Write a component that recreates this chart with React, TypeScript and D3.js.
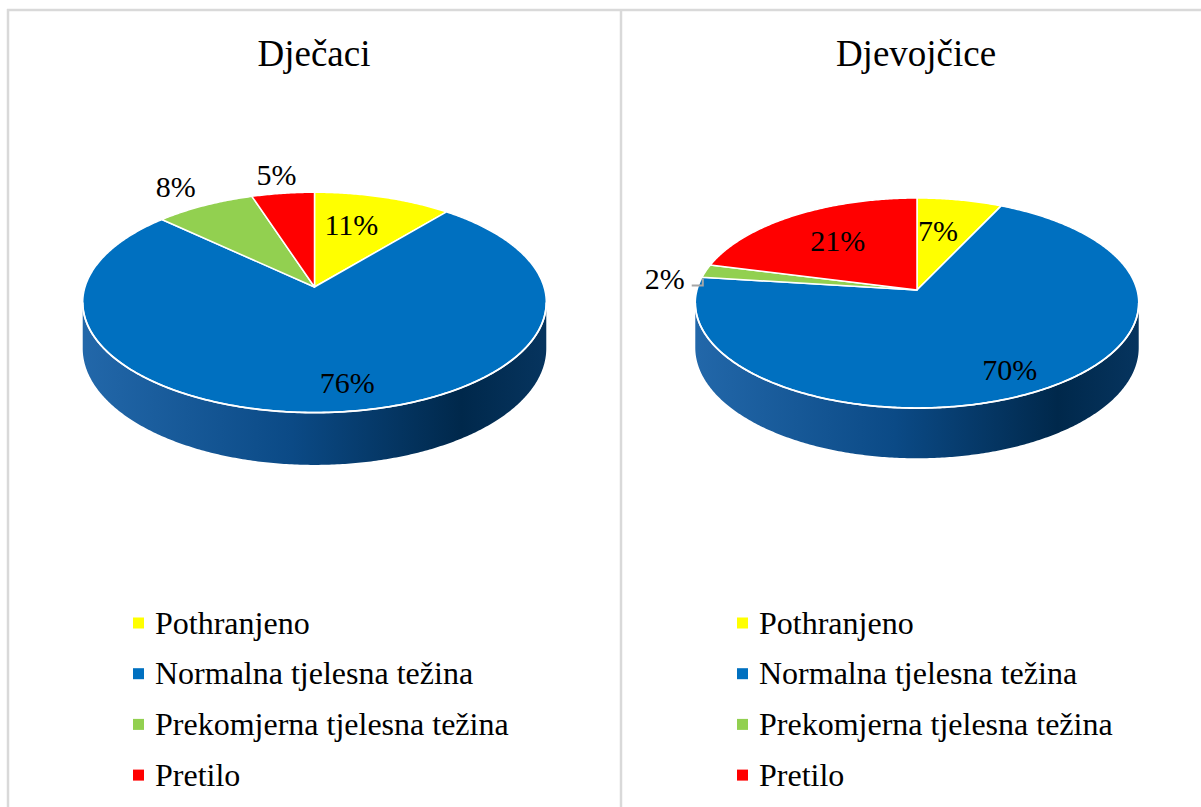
import React from 'react';
import * as d3 from 'd3';

// chart data
const categories = ['Pothranjeno', 'Normalna tjelesna težina', 'Prekomjerna tjelesna težina', 'Pretilo'];
const sliceColors = ['#ffff00', '#0070c0', '#92d050', '#ff0000'];
const boysValues = [11, 76, 8, 5];
const girlsValues = [7, 70, 2, 21];
const panelTitles = ['Dječaci', 'Djevojčice'];

const W = 1201;
const H = 807;
const FONT = '"Liberation Serif", "Times New Roman", serif';

// 3d pie geometry per panel (perspective ellipse)
const panels = [
  {
    title: panelTitles[0],
    values: boysValues,
    cx: 314.5, cy: 287, a: 229.5, b: 108, k: 0.14, depth: 45,
    titleX: 314,
    legendX: 133,
    labelR: [0.67, 0.79, 1.27, 1.24],
    labelDx: [-11, 20, -3, 0],
    labelDy: [0, 0, 0, 0],
    leader: [false, false, false, false]
  },
  {
    title: panelTitles[1],
    values: girlsValues,
    cx: 917, cy: 290, a: 220, b: 103.4, k: 0.124, depth: 44,
    titleX: 916,
    legendX: 737,
    labelR: [0.63, 0.8, 1.2, 0.64],
    labelDx: [-7, 0, 0, 2],
    labelDy: [0, 0, 11, 0],
    leader: [false, false, true, false]
  }
];

type Geo = { cx: number; cy: number; a: number; b: number; k: number; depth: number };

function proj(g: Geo, theta: number, r: number, drop = 0): [number, number] {
  const u = r * Math.sin(theta);
  const t = -r * Math.cos(theta);
  const w = 1 - g.k * t;
  return [g.cx + (g.a * u) / w, g.cy + (g.b * t + drop) / w];
}

function arcPoints(g: Geo, a0: number, a1: number, drop = 0) {
  const n = Math.max(2, Math.ceil(Math.abs(a1 - a0) / 0.01));
  return d3.range(n + 1).map((i) => proj(g, a0 + ((a1 - a0) * i) / n, 1, drop));
}

const line = d3.line();

function PiePanel({ p, idx }: { p: typeof panels[0]; idx: number }) {
  const arcs = d3.pie<number>().sort(null).startAngle(0).endAngle(2 * Math.PI)(p.values);
  const thL = Math.acos(-p.k);
  const thR = 2 * Math.PI - thL;
  const gradId = 'side-grad-' + idx;

  const sides = arcs
    .map((d, i) => {
      const s = Math.max(d.startAngle, thL);
      const e = Math.min(d.endAngle, thR);
      if (s >= e) return null;
      const pts = arcPoints(p, s, e).concat(arcPoints(p, e, s, p.depth));
      return <path key={'side' + i} d={line(pts) + 'Z'} fill={'url(#' + gradId + ')'} />;
    })
    .filter(Boolean);

  const apex: [number, number] = [p.cx, p.cy];

  return (
    <g>
      <defs>
        <linearGradient id={gradId} gradientUnits="userSpaceOnUse" x1={p.cx - p.a} y1={0} x2={p.cx + p.a} y2={0}>
          <stop offset="0%" stopColor="#2267a9" />
          <stop offset="45%" stopColor="#0b4a86" />
          <stop offset="82%" stopColor="#00284b" />
          <stop offset="100%" stopColor="#06345e" />
        </linearGradient>
      </defs>
      <text x={p.titleX} y={66} textAnchor="middle" fontFamily={FONT} fontSize={37} fill="#000">
        {p.title}
      </text>
      {sides}
      {arcs.map((d, i) => {
        const pts = [apex, ...arcPoints(p, d.startAngle, d.endAngle)];
        return (
          <path
            key={'top' + i}
            d={line(pts) + 'Z'}
            fill={sliceColors[i]}
            stroke="#fff"
            strokeWidth={1.5}
            strokeLinejoin="round"
          />
        );
      })}
      <path d={line(arcPoints(p, thL, thR)) || ''} fill="none" stroke="#fff" strokeWidth={1.8} />
      {arcs.map((d, i) => {
        const mid = (d.startAngle + d.endAngle) / 2;
        const [lx0, ly0] = proj(p, mid, p.labelR[i]);
        const lx = lx0 + p.labelDx[i];
        const ly = ly0 + p.labelDy[i];
        let leader = null;
        if (p.leader[i]) {
          const edge = proj(p, mid, 1);
          const ex = edge[0] - 3;
          leader = (
            <polyline
              points={`${lx + 27},${ly + 7} ${ex},${ly + 7} ${ex},${ly}`}
              fill="none"
              stroke="#a6a6a6"
              strokeWidth={2}
            />
          );
        }
        return (
          <g key={'lab' + i}>
            {leader}
            <text x={lx} y={ly} dy="0.35em" textAnchor="middle" fontFamily={FONT} fontSize={30} fill="#000">
              {d.data + '%'}
            </text>
          </g>
        );
      })}
      {categories.map((c, i) => (
        <g key={'leg' + i} transform={`translate(${p.legendX},${623 + i * 50.7})`}>
          <rect x={0} y={-5.5} width={11} height={11} fill={sliceColors[i]} />
          <text x={22} y={0} dy="0.33em" fontFamily={FONT} fontSize={32} fill="#000">
            {c}
          </text>
        </g>
      ))}
    </g>
  );
}

export default function App() {
  return (
    <svg
      width={W}
      height={H}
      style={{ position: 'absolute', left: 0, top: 0, background: '#fff' }}
    >
      <rect x={0} y={0} width={W} height={H} fill="#fff" />
      <line x1={7} y1={10} x2={W} y2={10} stroke="#d9d9d9" strokeWidth={2.5} />
      <line x1={8} y1={9} x2={8} y2={H} stroke="#d9d9d9" strokeWidth={2.5} />
      <line x1={621} y1={9} x2={621} y2={H} stroke="#d9d9d9" strokeWidth={2.5} />
      {panels.map((p, i) => (
        <PiePanel key={i} p={p} idx={i} />
      ))}
    </svg>
  );
}
